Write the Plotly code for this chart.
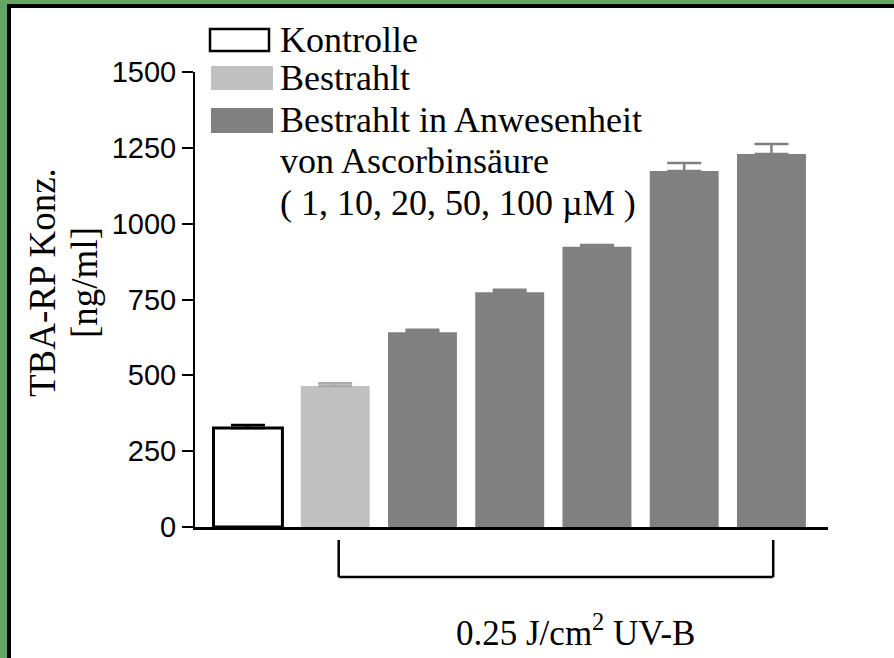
import plotly.graph_objects as go

# ---- data ----
groups = ["Kontrolle", "Bestrahlt", "1 µM", "10 µM", "20 µM", "50 µM", "100 µM"]
values = [326, 465, 642, 774, 924, 1174, 1230]
errors = [10, 9, 8, 8, 6, 26, 33]
y_ticks = [0, 250, 500, 750, 1000, 1250, 1500]
legend_lines = ["Kontrolle", "Bestrahlt", "Bestrahlt in Anwesenheit",
                "von Ascorbinsäure", "( 1, 10, 20, 50, 100 µM )"]
y_title_lines = ["TBA-RP Konz.", "[ng/ml]"]
bracket_label = "0.25 J/cm<sup>2</sup> UV-B"
bracket_first, bracket_last = 1, 6   # bars spanned by the UV-B bracket

W, H = 894, 658
L, R, T, B = 195, 828, 72, 527   # plot area in pixels

def px(x):
    return (x - L) / (R - L)

def py(y):
    return (B - y) / (B - T)

SERIF = "Liberation Serif"
SANS = "Liberation Sans"
WHITE, LIGHT, DARK = "#ffffff", "#c0c0c0", "#808080"

xs = list(range(len(groups)))
fig = go.Figure()

def add_bars(idx, fill, line_color, line_w, err_color):
    fig.add_trace(go.Bar(
        x=[xs[i] for i in idx], y=[values[i] for i in idx],
        width=0.79, marker=dict(color=fill, line=dict(color=line_color, width=line_w)),
        error_y=dict(type="data", symmetric=False,
                     array=[errors[i] for i in idx], arrayminus=[0] * len(idx),
                     color=err_color, thickness=2.5, width=17),
        showlegend=False, hoverinfo="skip"))

add_bars([0], WHITE, "#000000", 3, "#000000")
add_bars([1], LIGHT, LIGHT, 0, "#aaaaaa")
add_bars([2, 3, 4, 5, 6], DARK, DARK, 0, DARK)

shapes = []
# frame: green strip + black line on top and left
shapes.append(dict(type="rect", xref="paper", yref="paper", x0=px(0), x1=px(W), y0=py(0), y1=py(4),
                   fillcolor="#64a764", line=dict(width=0), layer="above"))
shapes.append(dict(type="rect", xref="paper", yref="paper", x0=px(0), x1=px(W), y0=py(4), y1=py(8),
                   fillcolor="#000000", line=dict(width=0), layer="above"))
shapes.append(dict(type="rect", xref="paper", yref="paper", x0=px(0), x1=px(7), y0=py(0), y1=py(H),
                   fillcolor="#64a764", line=dict(width=0), layer="above"))
shapes.append(dict(type="rect", xref="paper", yref="paper", x0=px(7), x1=px(11), y0=py(4), y1=py(H),
                   fillcolor="#000000", line=dict(width=0), layer="above"))

# legend swatches
shapes.append(dict(type="rect", xref="paper", yref="paper", x0=px(210), x1=px(269), y0=py(29), y1=py(51),
                   fillcolor=WHITE, line=dict(color="#000000", width=2.5)))
shapes.append(dict(type="rect", xref="paper", yref="paper", x0=px(211), x1=px(273), y0=py(66), y1=py(90),
                   fillcolor=LIGHT, line=dict(width=0)))
shapes.append(dict(type="rect", xref="paper", yref="paper", x0=px(211), x1=px(273), y0=py(108), y1=py(133),
                   fillcolor=DARK, line=dict(width=0)))

# UV-B bracket
bx0, bx1 = bracket_first + 0.04, bracket_last + 0.02
by_top, by_bot = py(540), py(577)
for seg in [(bx0, by_top, bx0, by_bot), (bx0, by_bot, bx1, by_bot), (bx1, by_bot, bx1, by_top)]:
    shapes.append(dict(type="line", xref="x", yref="paper", x0=seg[0], y0=seg[1], x1=seg[2], y1=seg[3],
                       line=dict(color="#000000", width=2.5)))

annotations = []
legend_y = [40, 78, 120, 161, 203]
for txt, yy in zip(legend_lines, legend_y):
    annotations.append(dict(text=txt, xref="paper", yref="paper", x=px(278), y=py(yy),
                            xanchor="left", yanchor="middle", showarrow=False,
                            font=dict(family=SERIF, size=36, color="#000000")))
for txt, xx in zip(y_title_lines, [42, 84]):
    annotations.append(dict(text=txt, xref="paper", yref="paper", x=px(xx), y=py(283),
                            xanchor="center", yanchor="middle", textangle=-90, showarrow=False,
                            font=dict(family=SERIF, size=37, color="#000000")))
annotations.append(dict(text=bracket_label, xref="paper", yref="paper", x=px(575), y=py(630),
                        xanchor="center", yanchor="middle", showarrow=False,
                        font=dict(family=SERIF, size=35, color="#000000")))

fig.update_layout(
    width=W, height=H,
    margin=dict(l=L, r=W - R, t=T, b=H - B, pad=0),
    paper_bgcolor="#ffffff", plot_bgcolor="#ffffff",
    barmode="overlay",
    shapes=shapes, annotations=annotations,
    xaxis=dict(range=[-0.607, 6.648], showticklabels=False, ticks="", showgrid=False,
               zeroline=False, showline=True, linecolor="#000000", linewidth=3, fixedrange=True),
    yaxis=dict(range=[0, 1500], tickvals=y_ticks, ticks="outside", ticklen=11, tickwidth=2,
               tickcolor="#000000", showgrid=False, zeroline=False, showline=True,
               linecolor="#000000", linewidth=2,
               tickfont=dict(family=SANS, size=29, color="#000000"), fixedrange=True),
)

fig.write_html("out.html", config={"displayModeBar": False})
